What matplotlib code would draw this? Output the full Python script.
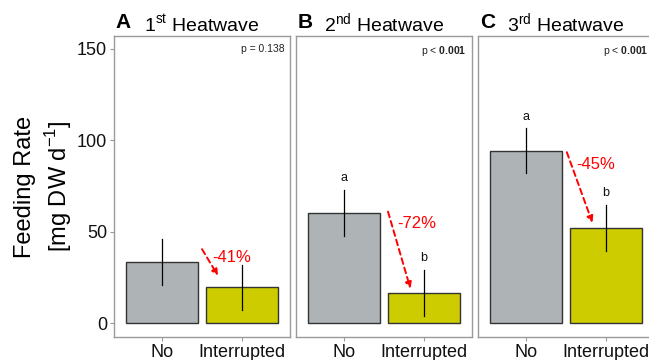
import numpy as np
import matplotlib; matplotlib.use("Agg"); import matplotlib.pyplot as plt

plt.rcParams["font.family"] = ["Liberation Sans", "DejaVu Sans"]
plt.rcParams["mathtext.fontset"] = "custom"
plt.rcParams["mathtext.rm"] = "Liberation Sans"
plt.rcParams["mathtext.bf"] = "Liberation Sans:bold"

groups = ["No", "Interrupted"]
panels = ["A", "B", "C"]
titles = ["1$^{\\mathrm{st}}$ Heatwave", "2$^{\\mathrm{nd}}$ Heatwave", "3$^{\\mathrm{rd}}$ Heatwave"]
means = [[33.5, 19.8], [60.3, 16.6], [94.2, 52.2]]
errs = [[12.5, 12.3], [12.8, 12.6], [12.3, 12.5]]
letters = [None, ["a", "b"], ["a", "b"]]
pvals = ["p = 0.138", "p < $\\mathbf{0.001}$", "p < $\\mathbf{0.001}$"]
changes = ["-41%", "-72%", "-45%"]
# arrow start/end and label position (x in bar units, y in data units)
arrows = [((1.5, 40.5), (1.7, 26), (1.63, 36)),
          ((1.55, 61), (1.83, 19), (1.66, 54.5)),
          ((1.51, 93.5), (1.83, 55), (1.63, 87))]

colors = ["#aeb4b6", "#cccc00"]
frame = "#9a9a9a"

fig = plt.figure(figsize=(6.49, 3.6), dpi=100)
lefts = [114, 296, 478]
W, B, T = 176, 337, 36
for i in range(3):
    ax = fig.add_axes([lefts[i]/649, 1-B/360, W/649, (B-T)/360])
    x = np.arange(1, 3)
    ax.bar(x, means[i], width=0.9, color=colors, edgecolor="#333333", linewidth=1.0, zorder=2)
    for xi, m, e in zip(x, means[i], errs[i]):
        ax.plot([xi, xi], [m-e, m+e], color="black", lw=0.9, zorder=3)
    if letters[i]:
        for xi, m, e, l in zip(x, means[i], errs[i], letters[i]):
            ax.text(xi, m+e+3, l, ha="center", va="bottom", fontsize=9, color="#111111")
    (x0, y0), (x1, y1), (lx, ly) = arrows[i]
    ax.annotate("", xy=(x1, y1), xytext=(x0, y0),
                arrowprops=dict(arrowstyle="-|>", color="red", lw=1.4, ls=(0, (3, 2)),
                                mutation_scale=9, shrinkA=0, shrinkB=0), zorder=4)
    ax.text(lx, ly, changes[i], color="red", fontsize=12, ha="left", va="center", zorder=4)
    ax.text(0.97, 0.975, pvals[i], transform=ax.transAxes, ha="right", va="top", fontsize=7.5, color="#222222")
    ax.set_xlim(0.4, 2.6)
    ax.set_ylim(-7.5, 157)
    ax.set_xticks(x)
    ax.set_xticklabels(groups, fontsize=13)
    ax.set_yticks([0, 50, 100, 150])
    if i == 0:
        ax.set_yticklabels(["0", "50", "100", "150"], fontsize=13)
        ax.set_ylabel("Feeding Rate\n[mg DW d$^{-1}$]", fontsize=17, labelpad=2, linespacing=1.3)
    else:
        ax.tick_params(axis="y", left=False, labelleft=False)
    ax.tick_params(colors=frame, labelcolor="#111111", length=3, pad=2)
    for s in ax.spines.values():
        s.set_color(frame); s.set_linewidth(1.0)
    ax.set_title(titles[i], fontsize=14, pad=3)
    ax.text(0.01, 1.012, panels[i], transform=ax.transAxes, fontsize=15, fontweight="bold", ha="left", va="bottom")

fig.savefig("out.png", dpi=100)
